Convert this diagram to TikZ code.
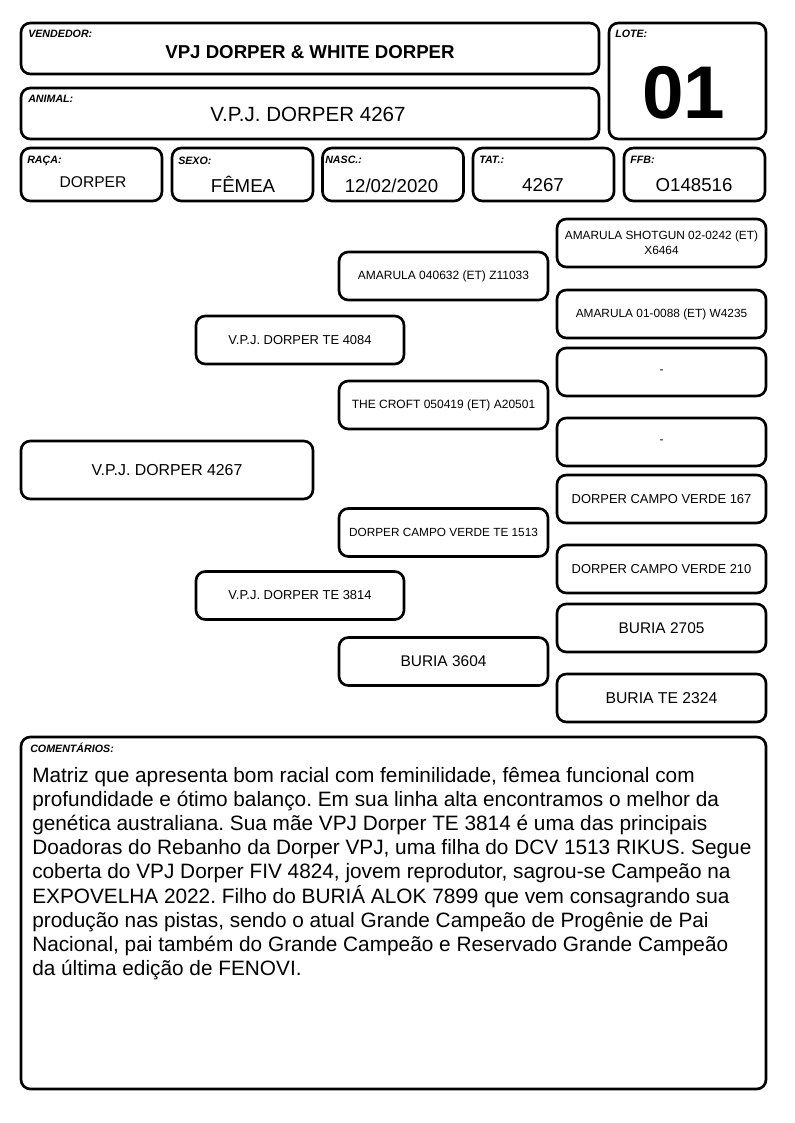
\documentclass[tikz,border=0pt]{standalone}
\usepackage{fontspec}
\setmainfont{Liberation Sans}
\frenchspacing
\newcommand\fsz[2]{\fontsize{#1}{#2}\selectfont}
\begin{document}
\begin{tikzpicture}[x=0.75pt,y=-0.75pt,
  box/.style={draw=black, line width=2pt, rounded corners=7pt, inner sep=0pt, align=center},
  hdr/.style={box, minimum width=433.5pt, minimum height=38.25pt},
  small/.style={box, minimum width=105.75pt, minimum height=39.75pt},
  ped/.style={box, minimum width=156.75pt, minimum height=36pt},
  lab/.style={anchor=base west, inner sep=0pt, font=\fsz{8pt}{9pt}\bfseries\itshape},
  val/.style={anchor=base, inner sep=0pt}]
\useasboundingbox[fill=white] (0,0) rectangle (794,1123);

% header boxes
\node[hdr] (vend) at (310,48.5) {};
\node[box, minimum width=117.75pt, minimum height=87pt] (lote) at (687.5,81) {};
\node[hdr] (anim) at (310,113.5) {};
\node[small] (raca) at (91.5,174.5) {};
\node[small] (sexo) at (242.5,174.5) {};
\node[small] (nasc) at (393,174.5) {};
\node[small] (tat) at (543.5,174.5) {};
\node[small] (ffb) at (694.5,174.5) {};

% labels
\node[lab] (lvend) at (28,38) {VENDEDOR:};
\node[lab] (lanim) at (28,103) {ANIMAL:};
\node[lab] (llote) at (615,38) {LOTE:};
\node[lab] (lraca) at (27,163.5) {RAÇA:};
\node[lab] (lsexo) at (178,165) {SEXO:};
\node[lab] (lnasc) at (325,164) {NASC.:};
\node[lab] (ltat) at (479,164) {TAT.:};
\node[lab] (lffb) at (630,164) {FFB:};

% values
\node[val, font=\fsz{14pt}{16pt}\bfseries] (vvend) at (310,59) {VPJ DORPER \& WHITE DORPER};
\node[val, font=\fsz{15.4pt}{18pt}] (vanim) at (308,122) {V.P.J. DORPER 4267};
\node[val, font=\fsz{56pt}{60pt}\bfseries] (vlote) at (684,119) {01};
\node[val, font=\fsz{11.7pt}{14pt}] (vraca) at (93,188) {DORPER};
\node[val, font=\fsz{14pt}{16pt}] (vsexo) at (243,193) {FÊMEA};
\node[val, font=\fsz{14pt}{16pt}] (vnasc) at (391.5,193) {12/02/2020};
\node[val, font=\fsz{14pt}{16pt}] (vtat) at (543,192) {4267};
\node[val, font=\fsz{14pt}{16pt}] (vffb) at (694,192) {O148516};

% pedigree column 1
\node[box, minimum width=219pt, minimum height=43.5pt, font=\fsz{11.9pt}{14pt}] (p1) at (167,470) {V.P.J. DORPER 4267};
% column 2
\node[box, minimum width=156pt, minimum height=36pt, font=\fsz{9.7pt}{12pt}] (p2a) at (300,340) {V.P.J. DORPER TE 4084};
\node[box, minimum width=156pt, minimum height=36pt, font=\fsz{9.7pt}{12pt}] (p2b) at (300,595.5) {V.P.J. DORPER TE 3814};
% column 3
\node[ped, font=\fsz{9pt}{11pt}] (p3a) at (443.5,276) {AMARULA 040632 (ET) Z11033};
\node[ped, font=\fsz{9pt}{11pt}] (p3b) at (443.5,405) {THE CROFT 050419 (ET) A20501};
\node[ped, font=\fsz{8.85pt}{11pt}] (p3c) at (443.5,532.5) {DORPER CAMPO VERDE TE 1513};
\node[ped, font=\fsz{11.6pt}{14pt}] (p3d) at (443.5,661.5) {BURIA 3604};
% column 4
\node[ped, font=\fsz{8.9pt}{10.9pt}] (p4a) at (661.5,243) {AMARULA SHOTGUN 02-0242 (ET)\\X6464};
\node[ped, font=\fsz{8.9pt}{11pt}] (p4b) at (661.5,314) {AMARULA 01-0088 (ET) W4235};
\node[ped, font=\fsz{8.9pt}{11pt}] (p4c) at (661.5,372) {-};
\node[ped, font=\fsz{8.9pt}{11pt}] (p4d) at (661.5,442) {-};
\node[ped, font=\fsz{9.7pt}{12pt}] (p4e) at (661.5,499) {DORPER CAMPO VERDE 167};
\node[ped, font=\fsz{9.7pt}{12pt}] (p4f) at (661.5,569) {DORPER CAMPO VERDE 210};
\node[ped, font=\fsz{11.6pt}{14pt}] (p4g) at (661.5,628) {BURIA 2705};
\node[ped, font=\fsz{11.8pt}{14pt}] (p4h) at (661.5,698) {BURIA TE 2324};

% comments
\node[box, minimum width=558.75pt, minimum height=264pt] (com) at (393.5,913) {};
\node[lab] (lcom) at (30,752) {COMENTÁRIOS:};
\node[anchor=north west, inner sep=0pt, align=left, font=\fsz{15.6pt}{18.1pt}] (tcom) at (32,767) {Matriz que apresenta bom racial com feminilidade, fêmea funcional com\\
profundidade e ótimo balanço. Em sua linha alta encontramos o melhor da\\
genética australiana. Sua mãe VPJ Dorper TE 3814 é uma das principais\\
Doadoras do Rebanho da Dorper VPJ, uma filha do DCV 1513 RIKUS. Segue\\
coberta do VPJ Dorper FIV 4824, jovem reprodutor, sagrou-se Campeão na\\
EXPOVELHA 2022. Filho do BURIÁ ALOK 7899 que vem consagrando sua\\
produção nas pistas, sendo o atual Grande Campeão de Progênie de Pai\\
Nacional, pai também do Grande Campeão e Reservado Grande Campeão\\
da última edição de FENOVI.};
\end{tikzpicture}
\end{document}
